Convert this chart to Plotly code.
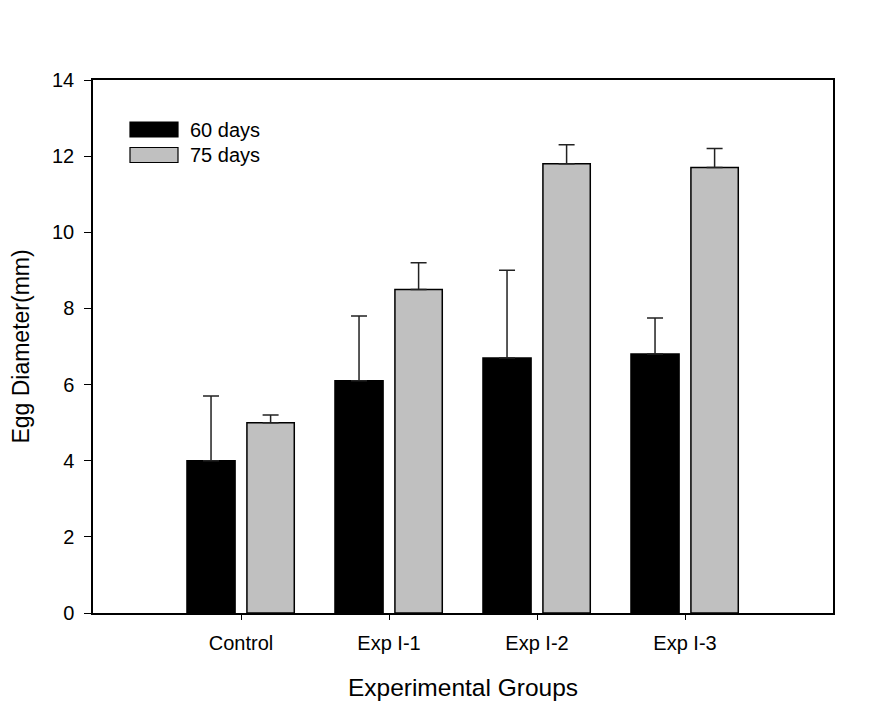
import plotly.graph_objects as go

categories = ["Control", "Exp I-1", "Exp I-2", "Exp I-3"]
series_names = ["60 days", "75 days"]
mean_60 = [4.0, 6.1, 6.7, 6.8]
err_60 = [1.7, 1.7, 2.3, 0.95]
mean_75 = [5.0, 8.5, 11.8, 11.7]
err_75 = [0.2, 0.7, 0.5, 0.5]
y_ticks = [0, 2, 4, 6, 8, 10, 12, 14]

colors = ["#000000", "#c0c0c0"]
FONT = "Arial, 'Liberation Sans', sans-serif"
xpos = list(range(len(categories)))

fig = go.Figure()
for name, means, errs, col, off, w in [
    (series_names[0], mean_60, err_60, colors[0], -0.365, 0.325),
    (series_names[1], mean_75, err_75, colors[1], 0.04, 0.32),
]:
    fig.add_trace(go.Bar(
        x=xpos, y=means, name=name, offset=off, width=w,
        marker=dict(color=col, line=dict(color="#000000", width=1.5)),
        error_y=dict(type="data", symmetric=False, array=errs,
                     arrayminus=[0] * len(errs), color="#222222",
                     thickness=1.5, width=8),
        showlegend=False,
    ))

# legend drawn as swatches + labels (paper coords)
leg_items = [(series_names[0], colors[0]), (series_names[1], colors[1])]
pw = 877 - 93 - 44
ph = 707 - 80 - 94
for i, (name, col) in enumerate(leg_items):
    ytop = 122 + i * 25.5
    x0 = (130 - 93) / pw
    x1 = (178 - 93) / pw
    y0 = 1 - (ytop - 80) / ph
    y1 = 1 - (ytop + 15 - 80) / ph
    fig.add_shape(type="rect", xref="paper", yref="paper", x0=x0, x1=x1,
                  y0=y1, y1=y0, fillcolor=col,
                  line=dict(color="#000000", width=1.2))
    fig.add_annotation(xref="paper", yref="paper", x=(188 - 93) / pw,
                       y=(y0 + y1) / 2, text=name, showarrow=False,
                       xanchor="left", yanchor="middle",
                       font=dict(family=FONT, size=20, color="#000000"))

fig.update_layout(
    width=877, height=707,
    margin=dict(l=93, r=44, t=80, b=94),
    paper_bgcolor="white", plot_bgcolor="white",
    barmode="overlay",
    font=dict(family=FONT, size=20, color="#000000"),
    xaxis=dict(
        range=[-1, 4], tickvals=xpos, ticktext=categories,
        showline=True, linecolor="#000000", linewidth=1.5, mirror=True,
        ticks="outside", ticklen=5, tickwidth=1, tickcolor="#000000",
        ticklabelstandoff=6, automargin=False,
        showgrid=False, zeroline=False,
        title=dict(text="Experimental Groups", font=dict(size=24.5), standoff=26),
        tickfont=dict(size=20),
    ),
    yaxis=dict(
        range=[0, 14], tickvals=y_ticks,
        showline=True, linecolor="#000000", linewidth=1.5, mirror=True,
        ticks="outside", ticklen=7, tickwidth=1, tickcolor="#000000",
        ticklabelstandoff=6, automargin=False,
        showgrid=False, zeroline=False,
        title=dict(text="Egg Diameter(mm)", font=dict(size=23), standoff=16),
        tickfont=dict(size=20),
    ),
)

fig.write_html("out.html")
